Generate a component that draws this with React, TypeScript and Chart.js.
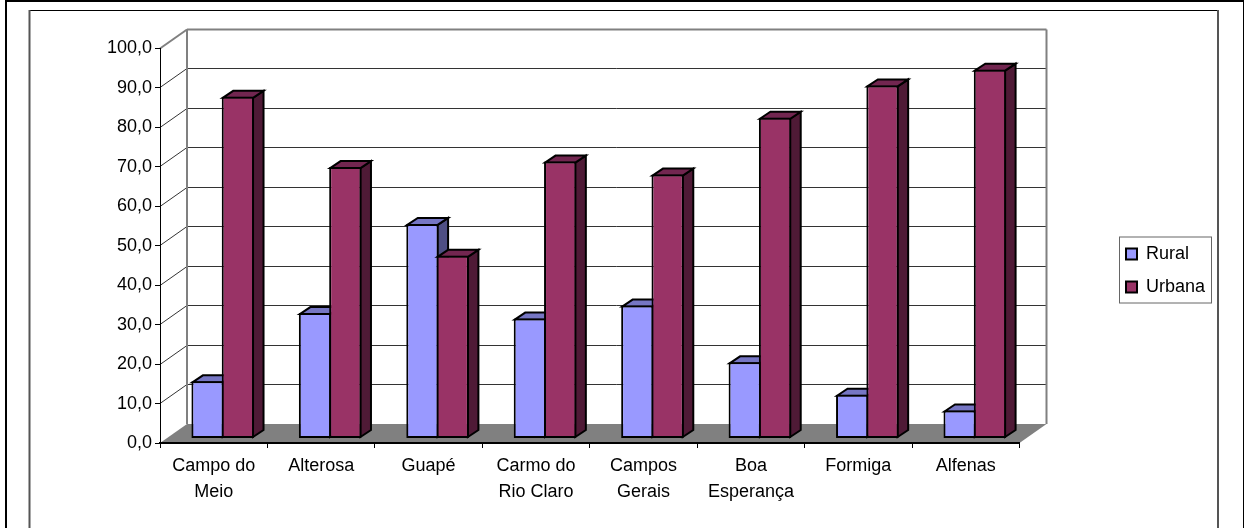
import React, { useEffect, useRef } from "react";
import { Chart, registerables } from "chart.js";

Chart.register(...registerables);

const categories = [
  ["Campo do", "Meio"],
  "Alterosa",
  "Guapé",
  ["Carmo do", "Rio Claro"],
  ["Campos", "Gerais"],
  ["Boa", "Esperança"],
  "Formiga",
  "Alfenas",
];
const rural = [14.5, 31.8, 54.4, 30.4, 33.7, 19.3, 11.1, 7.1];
const urbana = [86.6, 68.8, 46.3, 70.2, 66.9, 81.3, 89.5, 93.5];

const FONT = "'Liberation Sans', Arial, sans-serif";
const WALL = { dx: 27, dy: 19 };
const BAR_SHIFT = { dx: 9, dy: 4.5 };
const BAR_DEPTH = { dx: 10.5, dy: 7 };
const BAR_OVERLAP = [1, -1];
const SIDES = [
  { top: "#7676C4", side: "#4F4F84" },
  { top: "#722650", side: "#4F1A36" },
];

function poly(ctx: CanvasRenderingContext2D, pts: number[][], fill?: string, stroke?: string, lw = 2) {
  ctx.beginPath();
  pts.forEach((p, i) => (i ? ctx.lineTo(p[0], p[1]) : ctx.moveTo(p[0], p[1])));
  ctx.closePath();
  if (fill) {
    ctx.fillStyle = fill;
    ctx.fill();
  }
  if (stroke) {
    ctx.strokeStyle = stroke;
    ctx.lineWidth = lw;
    ctx.lineJoin = "miter";
    ctx.stroke();
  }
}

function line(ctx: CanvasRenderingContext2D, x1: number, y1: number, x2: number, y2: number, color: string, lw: number) {
  ctx.beginPath();
  ctx.moveTo(x1, y1);
  ctx.lineTo(x2, y2);
  ctx.strokeStyle = color;
  ctx.lineWidth = lw;
  ctx.stroke();
}

const scene3d = {
  id: "scene3d",
  beforeLayout(chart: any) {
    const lg = chart.legend;
    if (lg && !lg.__noReserve) {
      const fit = lg.fit;
      lg.fit = function () {
        fit.call(this);
        this.width = 0;
      };
      lg.__noReserve = true;
    }
  },
  afterLayout(chart: any) {
    const lg = chart.legend;
    lg.left = 1111;
    lg.right = 1216;
    lg.top = 230;
    lg.bottom = 360;
    lg.width = 105;
    lg.height = 130;
  },
  beforeDraw(chart: any) {
    const ctx = chart.ctx as CanvasRenderingContext2D;
    const { left, right, bottom } = chart.chartArea;
    const y = chart.scales.y;
    ctx.save();
    // page frames
    ctx.fillStyle = "#000";
    ctx.fillRect(5, 0, 1239, 2);
    ctx.fillRect(5, 0, 2, 528);
    ctx.fillRect(1243, 0, 1, 528);
    ctx.fillRect(29, 10, 1189, 1);
    ctx.fillStyle = "#555";
    ctx.fillRect(28.5, 10, 2, 518);
    ctx.fillRect(1217, 10, 2, 518);

    // legend box
    ctx.fillStyle = "#fff";
    ctx.fillRect(1119.5, 237, 92, 66);
    ctx.strokeStyle = "#666";
    ctx.lineWidth = 1;
    ctx.strokeRect(1119.5, 237, 92, 66);

    const bl = left + WALL.dx;
    const br = right + WALL.dx;
    // floor
    poly(ctx, [[left, bottom], [bl, bottom - WALL.dy], [br, bottom - WALL.dy], [right, bottom]], "#808080");
    // grid on side and back walls
    y.ticks.forEach((t: any) => {
      if (t.value === 0) return;
      const py = Math.floor(y.getPixelForValue(t.value)) + 0.5;
      const top = t.value === 100;
      const col = top ? "#808080" : "#333";
      const lw = top ? 2 : 1;
      line(ctx, left, py, bl, py - WALL.dy, col, lw);
      line(ctx, bl, py - WALL.dy, br, py - WALL.dy, col, lw);
    });
    // wall edges
    const topY = y.getPixelForValue(100) - WALL.dy;
    line(ctx, bl, topY, bl, bottom - WALL.dy, "#808080", 2);
    line(ctx, br, topY, br, bottom - WALL.dy, "#808080", 2);
    ctx.restore();
  },
  beforeDatasetsDraw(chart: any) {
    const ctx = chart.ctx as CanvasRenderingContext2D;
    const metas = [chart.getDatasetMeta(0), chart.getDatasetMeta(1)];
    for (let i = 0; i < categories.length; i++) {
      metas.forEach((meta, d) => {
        ctx.save();
        ctx.translate(BAR_SHIFT.dx + BAR_OVERLAP[d], -BAR_SHIFT.dy);
        const el = meta.data[i];
        const { x, y, base, width } = el.getProps(["x", "y", "base", "width"], true);
        const l = x - width / 2;
        const r = x + width / 2;
        const dx = BAR_DEPTH.dx;
        const dy = BAR_DEPTH.dy;
        poly(ctx, [[r - 1, y + 1], [r + dx - 1, y - dy + 1], [r + dx - 1, base - dy - 1], [r - 1, base - 1]], SIDES[d].side, "#000", 2);
        poly(ctx, [[l + 1, y + 1], [l + dx + 1, y - dy + 1], [r + dx - 1, y - dy + 1], [r - 1, y + 1]], SIDES[d].top, "#000", 2);
        el.draw(ctx);
        ctx.restore();
      });
    }
    return false;
  },
};

export default function App() {
  const ref = useRef<HTMLCanvasElement>(null);
  useEffect(() => {
    const chart = new Chart(ref.current!, {
      type: "bar",
      data: {
        labels: categories as any,
        datasets: [
          { label: "Rural", data: rural, backgroundColor: "#9999FF", borderColor: "#000", borderWidth: 2, borderSkipped: false },
          { label: "Urbana", data: urbana, backgroundColor: "#993366", borderColor: "#000", borderWidth: 2, borderSkipped: false },
        ],
      },
      options: {
        responsive: false,
        animation: false,
        layout: { padding: { left: 0, right: 224.5, top: 48.5, bottom: 0 } },
        datasets: { bar: { categoryPercentage: 0.6015, barPercentage: 1 } },
        plugins: {
          title: { display: false },
          tooltip: { enabled: false },
          legend: {
            display: true,
            position: "right",
            align: "start",
            labels: {
              boxWidth: 11,
              boxHeight: 11,
              padding: 15,
              color: "#000",
              font: { family: FONT, size: 18 },
            },
          },
        },
        scales: {
          x: {
            afterFit(s: any) {
              s.height = 85;
            },
            grid: { drawOnChartArea: false, drawTicks: true, tickLength: 5, tickColor: "#000", tickWidth: 1 },
            border: { color: "#000", width: 2 },
            ticks: {
              maxRotation: 0,
              autoSkip: false,
              padding: 5,
              color: "#000",
              font: { family: FONT, size: 18, lineHeight: 1.43 },
            },
          },
          y: {
            min: 0,
            max: 100,
            afterFit(s: any) {
              s.width = 160;
            },
            grid: { drawOnChartArea: false, drawTicks: true, tickLength: 5, tickColor: "#000", tickWidth: 1 },
            border: { color: "#000", width: 1 },
            ticks: {
              stepSize: 10,
              padding: 3,
              color: "#000",
              font: { family: FONT, size: 18 },
              callback: (v: any) => Number(v).toFixed(1).replace(".", ","),
            },
          },
        },
      },
      plugins: [scene3d],
    } as any);
    return () => chart.destroy();
  }, []);
  return (
    <canvas
      ref={ref}
      width={1244}
      height={528}
      style={{ position: "fixed", left: 0, top: 0, display: "block", width: 1244, height: 528 }}
    />
  );
}
